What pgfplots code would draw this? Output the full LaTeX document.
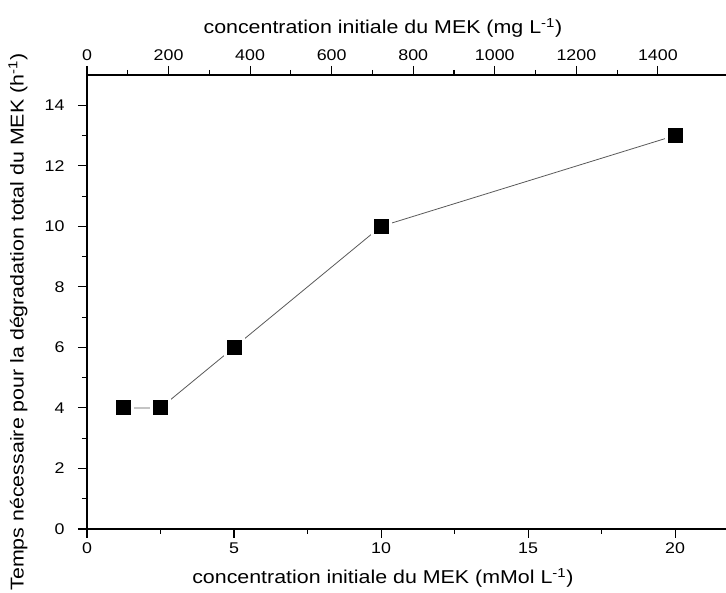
\documentclass[border=0pt]{standalone}
\usepackage{pgfplots}
\pgfplotsset{compat=1.18}
\usepackage{fontspec}
\setmainfont{Liberation Sans}[FakeStretch=1.15]

\begin{document}
\begin{tikzpicture}[x=1pt,y=1pt]
\useasboundingbox (0,0) rectangle (726,593);
% bottom / left axis: mMol per litre
\begin{axis}[
  at={(87pt,64pt)}, anchor=south west,
  width=639pt, height=454pt, scale only axis,
  xmin=0, xmax=21.73, ymin=0, ymax=15,
  axis x line*=bottom, axis y line*=left,
  axis line style={line width=1.3pt},
  every tick/.style={line width=1.1pt, black},
  tick align=outside,
  major tick length=9pt, minor tick length=5pt,
  xtick={0,5,10,15,20}, minor x tick num=1,
  ytick={0,2,...,14}, minor y tick num=1,
  /pgf/number format/assume math mode=true,
  tick label style={font=\fontsize{15.5}{17}\selectfont},
  yticklabel style={xshift=-10pt},
  xticklabel style={yshift=-1pt},
  label style={font=\fontsize{18.6}{21}\selectfont},
  xlabel={concentration initiale du MEK (mMol L\textsuperscript{-1})},
  xlabel style={at={(axis description cs:0.463,-0.108)}, anchor=center},
  ylabel={Temps nécessaire pour la dégradation total du MEK (h\textsuperscript{-1})},
  ylabel style={at={(axis description cs:-0.108,0.456)}, anchor=center, rotate=0},
  clip=false,
]
% connecting line with a small gap around each marker
\addplot[line width=0.8pt, black!65, mark=square*, mark size=10pt,
  mark options={fill=white, draw=white, line width=0pt}]
  coordinates {(1.25,4) (2.5,4) (5,6) (10,10) (20,13)};
\addplot[only marks, mark=square*, mark size=7pt, black,
  mark options={fill=black, draw=black, line width=0pt}]
  coordinates {(1.25,4) (2.5,4) (5,6) (10,10) (20,13)};
\end{axis}
% top axis: mg per litre (MEK, 72.11 g/mol)
\begin{axis}[
  at={(87pt,64pt)}, anchor=south west,
  width=639pt, height=454pt, scale only axis,
  xmin=0, xmax=1567, ymin=0, ymax=15,
  axis x line*=top, axis y line=none,
  axis line style={line width=1.3pt},
  every tick/.style={line width=1.1pt, black},
  tick align=outside,
  major tick length=9pt, minor tick length=5pt,
  xtick={0,200,...,1400}, minor x tick num=1,
  ytick=\empty,
  /pgf/number format/assume math mode=true,
  /pgf/number format/1000 sep={},
  tick label style={font=\fontsize{15.5}{17}\selectfont},
  xticklabel style={yshift=2pt},
  label style={font=\fontsize{18.6}{21}\selectfont},
  xlabel={concentration initiale du MEK (mg L\textsuperscript{-1})},
  xlabel style={at={(axis description cs:0.463,1.103)}, anchor=center},
]
\end{axis}
\end{tikzpicture}
\end{document}
